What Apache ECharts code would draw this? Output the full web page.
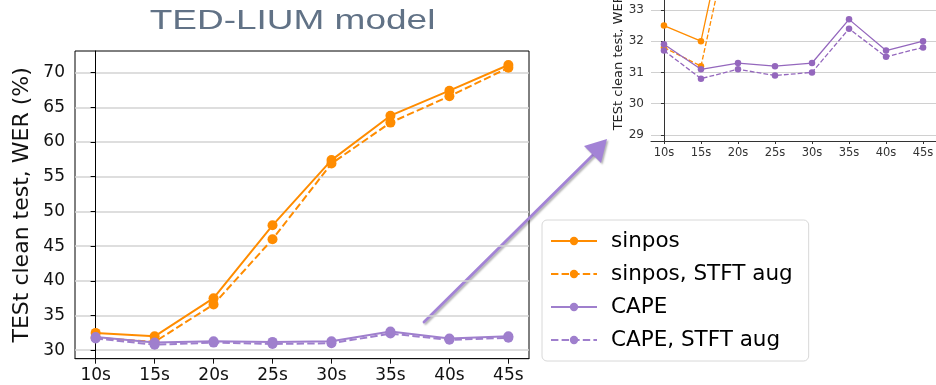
<!DOCTYPE html>
<html>
<head>
<meta charset="utf-8">
<script src="https://cdn.jsdelivr.net/npm/echarts@6/dist/echarts.min.js"></script>
<style>
  html, body { margin: 0; padding: 0; background: #ffffff; }
  #chart { width: 936px; height: 385px; }
</style>
</head>
<body>
<div id="chart"></div>
<script>
// Utterance length buckets on the x axis
const xLabels = ['10s', '15s', '20s', '25s', '30s', '35s', '40s', '45s'];

// WER (%) on the TED-LIUM clean test set
const sinpos     = [32.5, 32.0, 37.5, 48.0, 57.4, 63.8, 67.4, 71.1];
const sinposStft = [31.8, 31.2, 36.6, 46.0, 56.9, 62.8, 66.6, 70.7];
const cape       = [31.9, 31.1, 31.3, 31.2, 31.3, 32.7, 31.7, 32.0];
const capeStft   = [31.7, 30.8, 31.1, 30.9, 31.0, 32.4, 31.5, 31.8];

// Tick values for the full view and the zoomed view
const mainYTicks  = [30, 35, 40, 45, 50, 55, 60, 65, 70];
const insetYTicks = [29, 30, 31, 32, 33, 34];
const xTicks = xLabels.map((_, i) => i);

const seriesNames = ['sinpos', 'sinpos, STFT aug', 'CAPE', 'CAPE, STFT aug'];
const seriesData  = [sinpos, sinposStft, cape, capeStft];

const ORANGE = '#ff8c00';
const PURPLE = '#9f7fcd';
const PURPLE_DARK = '#9467bd';
const TXT = '#111111';
const FONT = '"DejaVu Sans", sans-serif';

const pairs = vals => vals.map((v, i) => [i, v]);

function buildSeries(axisIndex, lw, size, dash, purple) {
  return seriesData.map((vals, k) => ({
    name: seriesNames[k],
    type: 'line',
    xAxisIndex: axisIndex,
    yAxisIndex: axisIndex,
    data: pairs(vals),
    symbol: 'circle',
    symbolSize: size,
    showSymbol: true,
    clip: true,
    animation: false,
    z: 2 + k,
    itemStyle: { color: k < 2 ? ORANGE : purple },
    lineStyle: {
      color: k < 2 ? ORANGE : purple,
      width: lw,
      type: k % 2 === 1 ? dash : 'solid'
    },
    emphasis: { disabled: true }
  }));
}

function xAxisCfg(gridIndex, fontSize, margin, tickLen, color) {
  return {
    type: 'value',
    gridIndex: gridIndex,
    min: -0.35,
    max: 7.35,
    axisLine: { show: true, onZero: false, lineStyle: { color: color, width: 1 } },
    axisTick: { show: true, length: tickLen, customValues: xTicks, lineStyle: { color: color } },
    axisLabel: {
      customValues: xTicks,
      formatter: v => xLabels[Math.round(v)],
      color: color, fontSize: fontSize, fontFamily: FONT, margin: margin
    },
    splitLine: { show: false }
  };
}

const chart = echarts.init(document.getElementById('chart'), null, { renderer: 'canvas' });

chart.setOption({
  animation: false,
  backgroundColor: '#ffffff',
  grid: [
    { left: 75, top: 51, width: 454, height: 307.7, show: true, borderColor: '#000', borderWidth: 1,
      backgroundColor: 'transparent', outerBoundsMode: 'none' },
    { left: 651, top: -43, width: 285, height: 184, show: false, outerBoundsMode: 'none' }
  ],
  xAxis: [
    xAxisCfg(0, 17, 8, 5, TXT),
    xAxisCfg(1, 11.5, 6, 3, '#333333')
  ],
  yAxis: [
    {
      type: 'value', gridIndex: 0, min: 28.78, max: 73.12,
      name: 'TESt clean test, WER (%)', nameLocation: 'middle', nameGap: 42, nameRotate: 90,
      nameTextStyle: { color: TXT, fontSize: 22, fontFamily: FONT },
      axisLine: { show: true, lineStyle: { color: '#000', width: 1 } },
      axisTick: { show: true, length: 5, customValues: mainYTicks, lineStyle: { color: '#000' } },
      axisLabel: { customValues: mainYTicks, color: TXT, fontSize: 17, fontFamily: FONT, margin: 10 },
      splitLine: { show: true, lineStyle: { color: '#d3d3d3', width: 1.5 } }
    },
    {
      type: 'value', gridIndex: 1, min: 28.8, max: 34.7,
      name: 'TESt clean test, WER (%)', nameLocation: 'middle', nameGap: 25, nameRotate: 90,
      nameTextStyle: { color: '#222', fontSize: 13, fontFamily: FONT },
      axisLine: { show: true, lineStyle: { color: '#333', width: 1 } },
      axisTick: { show: true, length: 3, customValues: insetYTicks, lineStyle: { color: '#333' } },
      axisLabel: { customValues: insetYTicks, color: '#333', fontSize: 12, fontFamily: FONT, margin: 7 },
      splitLine: { show: true, lineStyle: { color: '#d0d0d0', width: 1 } }
    }
  ],
  legend: {
    data: seriesNames,
    orient: 'vertical',
    left: 542,
    top: 220,
    padding: [10, 16, 10, 8],
    itemWidth: 46,
    itemHeight: 10.5,
    itemGap: 11,
    backgroundColor: '#ffffff',
    borderColor: '#d8d8d8',
    borderWidth: 1,
    borderRadius: 5,
    selectedMode: false,
    textStyle: { color: '#000', fontSize: 21.5, fontFamily: FONT, padding: [0, 0, 0, 9] }
  },
  graphic: [
    {
      type: 'text',
      x: 292.5,
      y: 8,
      scaleX: 1.37,
      style: {
        text: 'TED-LIUM model',
        fill: '#617286',
        font: '27px "Liberation Sans", Arial, sans-serif',
        align: 'center',
        verticalAlign: 'top'
      },
      z: 10
    },
    {
      // pointer from the short-utterance region up to the zoomed view
      type: 'group',
      z: 20,
      children: [
        {
          type: 'line',
          shape: { x1: 424, y1: 322, x2: 596, y2: 152 },
          style: {
            stroke: '#a383d6', lineWidth: 2.8, lineCap: 'round',
            shadowBlur: 2, shadowColor: 'rgba(0,0,0,0.3)', shadowOffsetX: 1.5, shadowOffsetY: 1.5
          }
        },
        {
          type: 'polygon',
          shape: { points: [[607, 139], [584, 146], [601, 163]] },
          style: {
            fill: '#a383d6',
            shadowBlur: 2, shadowColor: 'rgba(0,0,0,0.3)', shadowOffsetX: 1.5, shadowOffsetY: 1.5
          }
        }
      ]
    }
  ],
  series: [
    ...buildSeries(0, 2, 10, [7.4, 3.2], PURPLE),
    ...buildSeries(1, 1.3, 6.5, [4.8, 2.1], PURPLE_DARK)
  ]
});
</script>
</body>
</html>
